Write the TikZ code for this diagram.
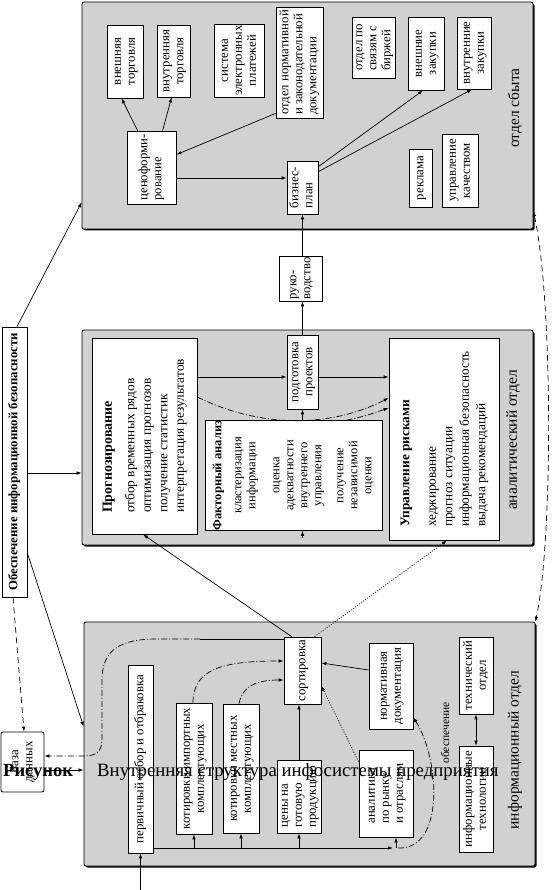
\documentclass[tikz,border=0pt]{standalone}
\usepackage{fontspec}
\setmainfont{Liberation Serif}
\usepackage{graphicx}
\usetikzlibrary{arrows.meta}
\usetikzlibrary{calc}
\usetikzlibrary{shadows}

\newcommand{\vt}[1]{\rotatebox{90}{\begin{tabular}{@{}c@{}}#1\end{tabular}}}
\newcommand{\vtl}[1]{\rotatebox{90}{\begin{tabular}{@{}l@{}}#1\end{tabular}}}

\begin{document}
\begin{tikzpicture}[x=1pt,y=-1pt,
    box/.style={draw,fill=white,line width=0.8pt,inner sep=0pt,font=\fontsize{12.8}{14}\selectfont},
    panel/.style={draw,fill=black!18,line width=0.8pt,rounded corners=2pt,inner sep=0pt,
        drop shadow={shadow xshift=1.5pt,shadow yshift=-1.5pt,fill=black,opacity=1}},
    dept/.style={rotate=90,inner sep=0pt,font=\fontsize{15.5}{17}\selectfont},
    arr/.style={-{Latex[length=5pt,width=3.5pt]}},
    link/.style={line width=0.7pt},
    ddash/.style={dash pattern=on 6pt off 2pt on 1pt off 2pt},
    longdash/.style={dash pattern=on 6pt off 4pt},
    dotline/.style={dash pattern=on 1pt off 1.5pt}]
\useasboundingbox (0,0) rectangle (553,890);

\node[panel,minimum width=451pt,minimum height=227pt] (sbyt) at (307.5,115.5) {};
\node[panel,minimum width=451pt,minimum height=215pt] (analyt) at (307.5,437.5) {};
\node[panel,minimum width=451pt,minimum height=244pt] (info) at (309.5,744) {};
\node[dept] (l_sbyt) at (515,108) {отдел сбыта};
\node[dept] (l_analyt) at (513,440) {аналитический отдел};
\node[dept] (l_info) at (515,750) {информационный отдел};

\node[box,minimum width=36pt,minimum height=73pt] (vneshtorg) at (125,61.5) {\vt{внешняя\\торговля}};
\node[box,minimum width=33pt,minimum height=72pt] (vnutorg) at (173.5,61) {\vt{внутренняя\\торговля}};
\node[box,minimum width=50pt,minimum height=73pt] (eplat) at (239,60.5) {\vt{система\\электронных\\платежей}};
\node[box,minimum width=47pt,minimum height=111pt] (normotd) at (299.5,62.5) {\vtl{отдел нормативной\\и законодательной\\документации}};
\node[box,minimum width=43pt,minimum height=61pt] (birzha) at (373.5,47.5) {\vtl{отдел по\\связям с\\биржей}};
\node[box,minimum width=36pt,minimum height=73pt] (vneshzak) at (426,53.5) {\vt{внешние\\закупки}};
\node[box,minimum width=34pt,minimum height=72pt] (vnutzak) at (474,53) {\vt{внутренние\\закупки}};
\node[box,minimum width=49pt,minimum height=73pt] (cenof) at (151.5,167.5) {\vtl{ценоформи-\\рование}};
\node[box,minimum width=31pt,minimum height=53pt] (biznes) at (302.5,187.5) {\vtl{бизнес-\\план}};
\node[box,minimum width=23pt,minimum height=58pt] (reklama) at (420.5,178) {\vt{реклама}};
\node[box,minimum width=36pt,minimum height=73pt] (kachestvo) at (460,170.5) {\vt{управление\\качеством}};
\node[box,minimum width=43pt,minimum height=45pt] (ruk) at (300.5,278.5) {\vtl{руко-\\водство}};

\node[box,minimum width=105pt,minimum height=196pt,font=\fontsize{13.3}{16.5}\selectfont] (prog) at (144.5,436)
    {\vtl{{\fontsize{14}{16}\selectfont\bfseries Прогнозирование}\\[6pt] отбор временных рядов\\ оптимизация прогнозов\\ получение статистик\\ интерпретация результатов}};
\node[box,minimum width=31pt,minimum height=74pt] (podg) at (302.5,372) {\vt{подготовка\\проектов}};
\node[box,minimum width=177pt,minimum height=103pt,font=\fontsize{12.5}{14}\selectfont] (faktor) at (293.5,475.5)
    {\vt{\textbf{Факторный анализ}\\[6pt] кластеризация\\ информации\\[10pt] оценка\\ адекватности\\ внутреннего\\ управления\\[8pt] получение\\ независимой\\ оценки}};
\node[box,minimum width=110pt,minimum height=202pt,font=\fontsize{13.3}{16.5}\selectfont] (riski) at (444,439)
    {\vtl{\textbf{Управление рисками}\\[10pt] хеджирование\\ прогноз ситуации\\ информационная безопасность\\ выдача рекомендаций}};

\node[box,minimum width=25pt,minimum height=188pt] (perv) at (140.5,759) {\vt{первичный отбор и отбраковка}};
\node[box,minimum width=36pt,minimum height=131pt] (imp) at (194,768.5) {\vt{котировки импортных\\комплектующих}};
\node[box,minimum width=36pt,minimum height=129pt] (mest) at (241,768.5) {\vt{котировки местных\\комплектующих}};
\node[box,minimum width=44pt,minimum height=73pt] (ceny) at (299,796.5) {\vtl{цены на\\готовую\\продукцию}};
\node[box,minimum width=37pt,minimum height=67pt] (sort) at (302.5,670.5) {\vt{сортировка}};
\node[box,minimum width=44pt,minimum height=86pt] (normdoc) at (391,686) {\vt{нормативная\\документация}};
\node[box,minimum width=54pt,minimum height=87pt] (anal) at (386,793.5) {\vtl{аналитика\\по рынку\\и отраслям}};
\node[box,minimum width=34pt,minimum height=77pt] (techotd) at (476,675.5) {\vt{технический\\отдел}};
\node[box,minimum width=34pt,minimum height=106pt] (inftech) at (476,799) {\vt{информационные\\технологии}};
\node[rotate=90,inner sep=0pt,font=\fontsize{11.5}{13}\selectfont] (l_obesp) at (445,733) {обеспечение};

\node[box,minimum width=25pt,minimum height=270pt] (obesp) at (14.5,462) {\vt{\bfseries Обеспечение информационной безопасности}};
\node[box,rounded corners=2pt,minimum width=43pt,minimum height=60pt] (baza) at (22.5,762) {\vt{База\\данных}};
\coordinate (inp) at (0,890);
\coordinate (bus) at ([yshift=-89pt]perv.east);

\draw[link,arr] ([xshift=11pt]cenof.north west) -- ([xshift=15pt]vneshtorg.south west);
\draw[link,arr] ([xshift=36pt]cenof.north west) -- ([xshift=15pt]vnutorg.south west);
\draw[link,arr] ([yshift=5pt]normotd.south west) -- ([yshift=-24pt]cenof.north east);
\draw[link,arr] ([yshift=-10.5pt]cenof.east) -- ([yshift=-10.5pt]cenof.east -| biznes.west);
\draw[link,arr] ([yshift=-6pt]biznes.north east) -- ([xshift=-3pt]vneshzak.south);
\draw[link,arr] ([yshift=-11pt]biznes.north east) -- ([xshift=-2pt]vnutzak.south);
\draw[link,arr] (biznes.south |- ruk.north) -- (biznes.south);
\draw[link,arr] (podg.north) -- (podg.north |- ruk.south);

\draw[link,arr] ([yshift=59pt]prog.east) -- ([yshift=59pt]prog.east -| podg.west);
\draw[link,arr] ([yshift=-5pt]podg.east) -- ([yshift=-5pt]podg.east -| riski.west);
\draw[link,arr,ddash] ([yshift=39pt]prog.east) .. controls (260,428) and (330,428) .. ([yshift=41pt]riski.west);
\draw[link,arr,ddash] ([xshift=142pt]faktor.north west) .. controls (365,416) .. ([yshift=31pt]riski.west);
\draw[link,arr] (podg.south |- faktor.north) -- (podg.south);
\draw[link,arr] ([yshift=-7pt]podg.south |- faktor.south) -- (podg.south |- faktor.south);
\draw[link,arr] ([xshift=8pt]sort.north west) -- ([xshift=-1.5pt]prog.south);
\draw[link,arr,dotline] ([xshift=31pt]sort.north west) -- ([xshift=3pt]riski.south);

\draw[link,arr] ([xshift=2.5pt]obesp.north) -- ([yshift=27pt]sbyt.south west);
\draw[link,arr] ([yshift=-11pt]obesp.east) -- ([yshift=-11pt]obesp.east -| analyt.west);
\draw[link,arr] ([yshift=-91pt]obesp.east) -- ([yshift=-105pt]info.north west);
\draw[link,arr,longdash] ([xshift=-1.5pt]obesp.south) -- ([xshift=1.5pt]baza.north);
\draw[link] ([yshift=31.5pt]sort.west) -- (200,639);
\draw[link,arr,ddash] (200,639) -- (157,639) .. controls (120,639) and (102,650) .. (102,680) -- (102,740)
    .. controls (102,752) and (95,756) .. (84,756) -- ([yshift=6pt]baza.east);
\draw[link,arr] ([yshift=-8pt]baza.east) -- ([yshift=-8pt]baza.east -| info.west);

\draw[link,arr] (perv.south |- inp) -- (perv.south);
\draw[link,arr] (bus) -- ([xshift=7pt]anal.south |- bus);
\foreach \b in {imp,mest,ceny}
    \draw[link,arr] (\b.south |- bus) -- (\b.south);
\draw[link,arr] ([xshift=10pt]anal.south |- bus) -- ([xshift=10pt]anal.south);
\draw[link,arr,ddash] ([xshift=12pt]anal.south |- bus) .. controls (445,850) and (440,760) .. ([yshift=12pt]normdoc.south east);
\draw[link,arr,ddash] ([xshift=-1pt]imp.north) .. controls (193,668) and (225,661) .. ([yshift=9.5pt]sort.west);
\draw[link,arr,ddash] ([xshift=-2pt]mest.north) .. controls (243,683) and (262,680) .. ([yshift=-9.5pt]sort.west);
\draw[link,arr] (ceny.north) -- (ceny.north |- sort.south);
\draw[link,arr,dotline] ([yshift=-12pt]anal.north west) -- ([yshift=-15.5pt]sort.east);
\draw[link,arr] ([yshift=16pt]normdoc.west) -- ([yshift=7.5pt]sort.east);
\draw[link,{Latex[length=5pt,width=3.5pt]}-{Latex[length=5pt,width=3.5pt]}] (techotd.south) -- (inftech.north);

\draw[link,{Latex[length=5pt,width=3.5pt]}-{Latex[length=5pt,width=3.5pt]},longdash]
    ([yshift=18pt]sbyt.south east) .. controls (553,300) and (553,540) .. (info.north east);

\node[anchor=base west,inner sep=0pt,font=\fontsize{18.5}{20}\selectfont\bfseries] (cap_a) at (3,776) {Рисунок};
\node[anchor=base west,inner sep=0pt,font=\fontsize{18.8}{21}\selectfont] (cap_b) at (97,776) {Внутренняя структура инфосистемы предприятия};
\end{tikzpicture}
\end{document}
